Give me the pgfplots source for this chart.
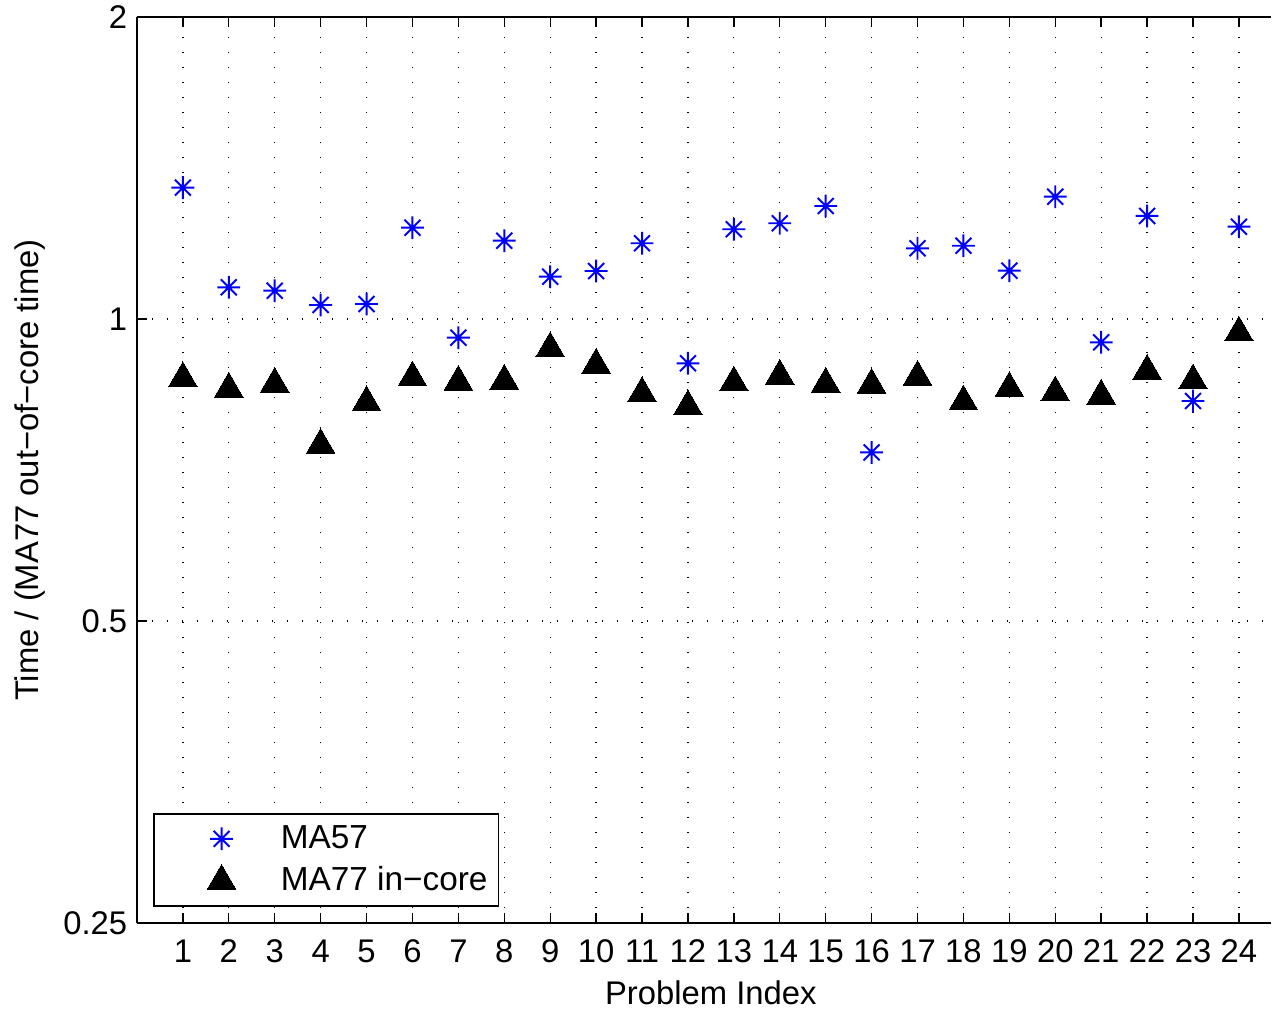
\documentclass[border=0pt]{standalone}
\usepackage{fontspec}
\setmainfont{Liberation Sans}
\usepackage{pgfplots}
\pgfplotsset{compat=1.18}

% MATLAB-like 8-ray asterisk
\pgfdeclareplotmark{mstar}{%
  \pgfpathmoveto{\pgfqpoint{-\pgfplotmarksize}{0pt}}\pgfpathlineto{\pgfqpoint{\pgfplotmarksize}{0pt}}%
  \pgfpathmoveto{\pgfqpoint{0pt}{-\pgfplotmarksize}}\pgfpathlineto{\pgfqpoint{0pt}{\pgfplotmarksize}}%
  \pgfpathmoveto{\pgfpoint{-0.7\pgfplotmarksize}{-0.7\pgfplotmarksize}}\pgfpathlineto{\pgfpoint{0.7\pgfplotmarksize}{0.7\pgfplotmarksize}}%
  \pgfpathmoveto{\pgfpoint{-0.7\pgfplotmarksize}{0.7\pgfplotmarksize}}\pgfpathlineto{\pgfpoint{0.7\pgfplotmarksize}{-0.7\pgfplotmarksize}}%
  \pgfusepathqstroke}

\pgfplotsset{mleg/.style={legend image code/.code={%
  \path (0pt,0pt) (41pt,0pt);
  \draw[mark repeat=2,mark phase=2,##1] plot coordinates {(0pt,0pt)(22pt,0pt)(44pt,0pt)};}}}

\begin{document}
\begin{tikzpicture}
\begin{axis}[
    scale only axis,
    width=408.2pt, height=326.2pt,
    xmin=0, xmax=24.7,
    ymin=0.25, ymax=2,
    ymode=log, log basis y=2,
    axis x line*=box, axis y line*=left,
    axis line style={line width=0.6pt},
    xtick={1,...,24},
    ytick={0.25,0.5,1,2},
    yticklabels={0.25,0.5,1,2},
    minor ytick={},
    tick align=inside,
    major tick length=3.6pt,
    tick style={line width=0.5pt, black},
    /pgf/number format/assume math mode=true,
    font=\fontsize{11.8}{14}\selectfont,
    ticklabel style={font=\fontsize{11.8}{14}\selectfont},
    xticklabel style={yshift=-2.5pt},
    grid=major,
    major grid style={black, line width=0.45pt, dash pattern=on 0.45pt off 4.95pt},
    xlabel={Problem Index},
    ylabel={Time / (MA77 out−of−core time)},
    xlabel style={at={(axis description cs:0.506,-0.0773)}, anchor=center},
    ylabel style={at={(axis description cs:-0.0943,0.5)}, anchor=center},
    legend cell align=left,
    legend style={at={(axis description cs:0,0)}, anchor=south west,
        xshift=5.8pt, yshift=5.8pt, draw=black, line width=0.6pt,
        inner xsep=2pt, inner ysep=2pt, row sep=1.2pt,
        font=\fontsize{12}{14}\selectfont},
]
\addplot[only marks, mleg, mark=mstar, mark size=4.1pt, color=blue, line width=0.7pt]
coordinates {
(1,1.3518)(2,1.0755)(3,1.0671)(4,1.0327)(5,1.0350)(6,1.2331)
(7,0.9580)(8,1.1969)(9,1.1019)(10,1.1164)(11,1.1898)(12,0.9034)
(13,1.2286)(14,1.2456)(15,1.2961)(16,0.7364)(17,1.1761)(18,1.1831)
(19,1.1172)(20,1.3241)(21,0.9479)(22,1.2667)(23,0.8285)(24,1.2359)
};
\addlegendentry{MA57}
\addplot[only marks, mleg, mark=triangle*, mark size=5.95pt, color=black, line width=0pt]
coordinates {
(1,0.8727)(2,0.8518)(3,0.8616)(4,0.7489)(5,0.8258)(6,0.8741)
(7,0.8655)(8,0.8675)(9,0.9347)(10,0.9000)(11,0.8432)(12,0.8183)
(13,0.8641)(14,0.8776)(15,0.8616)(16,0.8596)(17,0.8755)(18,0.8272)
(19,0.8530)(20,0.8446)(21,0.8381)(22,0.8875)(23,0.8681)(24,0.9690)
};
\addlegendentry{MA77 in−core}
\end{axis}
\pgfresetboundingbox
\path ([shift={(-49.3pt,-31.3pt)}]current axis.south west) rectangle ([shift={(0.7pt,6.1pt)}]current axis.north east);
\end{tikzpicture}
\end{document}
